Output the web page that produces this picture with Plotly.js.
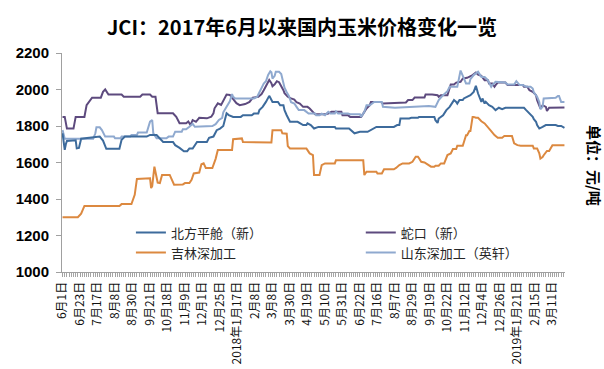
<!DOCTYPE html>
<html>
<head>
<meta charset="utf-8">
<script src="https://cdn.plot.ly/plotly-3.0.1.min.js"></script>
<style>html,body{margin:0;padding:0;background:#fff;}#chart{width:604px;height:369px;}</style>
</head>
<body>
<div id="chart"></div>
<script>
// x = trading-day index since 2017-06-01
const tickDays = [0,16,32,48,64,80,96,112,128,144,160,176,192,208,224,240,256,272,288,304,320,336,352,368,384,400,416,432,448];
const tickLabels = ['6月1日','6月23日','7月17日','8月8日','8月30日','9月21日','10月18日','11月9日','12月1日','12月25日','2018年1月17日','2月8日','3月8日','3月30日','4月19日','5月10日','5月31日','6月22日','7月16日','8月7日','8月29日','9月19日','10月22日','11月12日','12月4日','12月26日','2019年1月21日','2月15日','3月11日'];

const seriesNames = ['北方平舱（新）','蛇口（新）','吉林深加工','山东深加工（英轩）'];

// 北方平舱（新）
const daysBF = [0,1,2,3,4,12,13,15,17,34,37,40,52,54,57,77,80,86,89,92,101,103,107,111,114,116,119,121,123,132,134,138,141,144,147,150,152,156,163,165,173,175,179,180,183,186,189,190,192,197,199,202,203,205,208,215,220,223,224,227,230,234,249,250,262,267,272,279,282,287,303,306,308,309,317,319,325,326,340,341,343,344,348,351,354,357,358,360,361,363,366,367,370,373,376,378,380,381,383,384,386,387,390,393,396,399,402,405,422,424,427,430,431,433,434,436,439,442,451,453,456,459];
const priceBF = [1760,1724,1669,1700,1718,1722,1678,1680,1730,1742,1720,1675,1675,1724,1742,1742,1751,1751,1730,1713,1713,1695,1680,1662,1662,1677,1677,1695,1713,1713,1735,1742,1777,1786,1800,1870,1860,1850,1850,1859,1859,1868,1868,1887,1905,1932,1965,1955,1932,1932,1914,1914,1887,1859,1823,1823,1805,1805,1815,1805,1786,1795,1795,1786,1786,1760,1768,1768,1777,1795,1795,1805,1805,1841,1841,1845,1845,1850,1850,1832,1817,1841,1859,1887,1905,1932,1942,1932,1923,1942,1942,1951,1960,1969,1987,2020,1978,1960,1932,1951,1923,1932,1914,1905,1887,1900,1892,1900,1900,1887,1868,1850,1837,1823,1805,1786,1795,1805,1805,1800,1800,1790];

// 蛇口（新）
const daysSK = [0,2,4,10,12,20,22,25,27,35,37,39,42,54,56,71,73,80,82,85,87,101,104,107,113,115,117,119,122,125,132,136,138,139,142,145,148,150,153,156,159,162,167,171,174,179,182,184,187,189,191,192,194,196,198,200,202,203,206,209,212,214,217,220,224,226,229,231,240,243,246,255,256,261,263,273,275,278,281,282,291,293,314,316,320,322,331,332,338,343,344,346,352,354,355,358,360,364,366,370,375,378,380,383,386,389,390,393,395,396,398,405,407,421,422,425,427,430,433,434,436,437,439,442,443,445,459];
const priceSK = [1850,1850,1786,1786,1850,1850,1914,1940,1955,1955,1987,2000,1972,1972,1960,1960,1972,1972,1960,1960,1870,1870,1850,1815,1815,1825,1805,1832,1823,1845,1842,1851,1869,1897,1924,1915,1951,1972,1970,1945,1925,1914,1920,1932,1955,1960,1975,1996,2035,2052,2035,2018,2028,2045,2040,2020,1996,1980,1960,1951,1945,1930,1923,1905,1905,1896,1875,1864,1864,1868,1878,1878,1859,1859,1850,1850,1868,1896,1914,1932,1932,1923,1929,1942,1942,1956,1956,1973,1973,1969,1960,1969,1969,2005,2027,2027,2038,2042,2060,2064,2079,2093,2082,2075,2051,2051,2033,2033,2015,2024,2038,2038,2024,2024,2015,2015,1996,1987,1969,1942,1905,1896,1914,1905,1882,1900,1902];

// 吉林深加工
const daysJL = [0,14,17,20,52,54,63,65,66,68,80,81,82,84,85,86,87,89,91,98,100,102,110,112,116,118,120,125,127,129,131,137,140,142,155,156,164,165,191,192,200,201,205,206,208,223,224,226,229,230,235,237,240,249,250,275,276,278,287,288,292,293,294,303,305,308,311,317,320,323,325,326,328,331,334,337,340,341,344,346,349,352,355,357,360,361,366,367,369,370,372,373,375,376,378,380,383,386,389,392,395,398,402,404,411,413,416,419,430,431,434,436,437,439,440,443,445,447,448,459];
const priceJL = [1300,1300,1320,1362,1362,1372,1372,1405,1423,1510,1514,1460,1470,1577,1540,1523,1490,1487,1532,1532,1505,1478,1480,1487,1487,1505,1540,1545,1590,1595,1570,1570,1620,1668,1668,1728,1732,1712,1710,1777,1777,1760,1758,1690,1677,1677,1668,1650,1641,1531,1531,1586,1595,1595,1612,1612,1531,1550,1550,1540,1540,1555,1563,1563,1570,1586,1595,1595,1604,1632,1632,1623,1604,1600,1590,1577,1577,1582,1582,1595,1595,1641,1650,1674,1674,1692,1692,1710,1750,1750,1772,1772,1850,1850,1845,1845,1826,1814,1795,1772,1750,1736,1736,1745,1745,1705,1695,1692,1692,1677,1677,1650,1622,1630,1640,1663,1663,1686,1695,1695];

// 山东深加工（英轩）
const daysSD = [0,2,28,30,31,34,36,39,47,48,53,54,62,63,68,69,77,78,80,82,83,86,95,97,101,103,109,110,113,116,119,121,137,140,143,146,147,150,153,155,156,158,175,178,181,184,186,188,190,191,192,194,195,198,200,203,205,207,209,212,214,216,221,223,225,231,232,235,237,240,243,245,249,250,252,261,263,272,273,276,278,281,285,292,293,304,335,341,344,348,352,354,361,364,366,367,369,372,373,376,380,383,386,389,392,393,396,405,407,413,415,418,421,424,428,430,431,434,436,437,439,440,451,453,454,456,459];
const priceSD = [1778,1730,1730,1760,1793,1793,1778,1742,1742,1733,1733,1742,1742,1751,1751,1764,1764,1787,1824,1833,1760,1733,1733,1742,1742,1769,1769,1782,1782,1796,1812,1796,1800,1810,1833,1845,1875,1905,1935,1975,1960,1951,1951,1960,1995,2033,2045,2080,2100,2095,2060,2075,2097,2097,2085,2010,1985,1965,1930,1923,1905,1887,1887,1878,1868,1868,1859,1859,1868,1859,1878,1868,1868,1880,1868,1868,1864,1864,1850,1878,1914,1914,1932,1932,1905,1900,1910,1905,1942,1969,1991,2015,2015,2104,2075,2060,2033,2033,2057,2079,2097,2069,2069,2051,2015,2024,2042,2038,2027,2027,2046,2024,2024,2015,2015,2005,1984,1960,1932,1892,1905,1951,1955,1965,1965,1932,1932];

const colors = {BF:'#3d6b9c', SK:'#5d4a7e', JL:'#dc8940', SD:'#8fa9cf'};
const cjk = '"Noto Sans CJK SC", "Microsoft YaHei", sans-serif';

const traces = [
  {x: daysSK, y: priceSK, name: seriesNames[1], legend: 'legend2', type: 'scatter', mode: 'lines', line: {color: colors.SK, width: 2}},
  {x: daysSD, y: priceSD, name: seriesNames[3], legend: 'legend2', type: 'scatter', mode: 'lines', line: {color: colors.SD, width: 2}},
  {x: daysBF, y: priceBF, name: seriesNames[0], legend: 'legend', type: 'scatter', mode: 'lines', line: {color: colors.BF, width: 2}},
  {x: daysJL, y: priceJL, name: seriesNames[2], legend: 'legend', type: 'scatter', mode: 'lines', line: {color: colors.JL, width: 2}}
];

const legendCommon = {
  orientation: 'v', bgcolor: 'rgba(0,0,0,0)', borderwidth: 0,
  font: {family: cjk, size: 13, color: '#262626'},
  xanchor: 'left', yanchor: 'middle', y: 0.134, tracegroupgap: 0
};

const layout = {
  width: 604, height: 369,
  margin: {l: 62, r: 39, t: 53, b: 97},
  paper_bgcolor: '#ffffff', plot_bgcolor: '#ffffff',
  showlegend: true,
  title: {
    text: '<b>JCI：2017年6月以来国内玉米价格变化一览</b>',
    font: {family: cjk, size: 20, color: '#000000'},
    x: 0.5, xref: 'container', xanchor: 'center',
    y: 1 - 28/369, yref: 'container', yanchor: 'middle'
  },
  xaxis: {
    type: 'linear', range: [-0.5, 459.5],
    tickmode: 'array', tickvals: tickDays, ticktext: tickLabels,
    tickangle: -90,
    tickfont: {family: cjk, size: 12, color: '#111111'},
    ticks: 'outside', ticklen: 4, tickcolor: '#a0a0a0', tickwidth: 1,
    minor: {tickmode: 'linear', tick0: 0, dtick: 2, ticks: 'outside', ticklen: 4, tickcolor: '#a6a6a6', tickwidth: 1},
    showline: true, linecolor: '#a0a0a0', linewidth: 1,
    showgrid: false, zeroline: false, fixedrange: true
  },
  yaxis: {
    range: [1000, 2200], tickmode: 'linear', tick0: 1000, dtick: 200,
    tickfont: {family: 'Arial, "Liberation Sans", sans-serif', size: 15, color: '#000000', weight: 'bold'},
    ticks: 'outside', ticklen: 5, tickcolor: '#a0a0a0', tickwidth: 1,
    ticklabelstandoff: 4,
    showline: true, linecolor: '#a0a0a0', linewidth: 1,
    showgrid: false, zeroline: false, fixedrange: true
  },
  legend: Object.assign({}, legendCommon, {x: 0.137}),
  legend2: Object.assign({}, legendCommon, {x: 0.594}),
  annotations: [{
    text: '<b>单位：元/吨</b>', textangle: 90,
    xref: 'paper', yref: 'paper', x: (595 - 62) / 503, y: (272 - 165) / 219,
    xanchor: 'center', yanchor: 'middle', showarrow: false,
    font: {family: cjk, size: 15, color: '#000000'}
  }]
};

Plotly.newPlot('chart', traces, layout, {displayModeBar: false, staticPlot: true});
</script>
</body>
</html>
